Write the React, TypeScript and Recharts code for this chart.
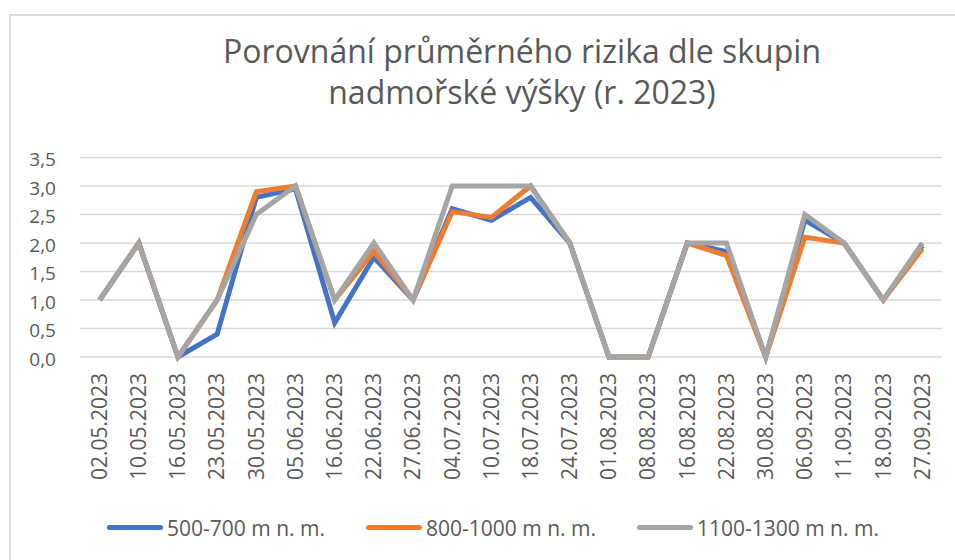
import React from "react";
import { LineChart, Line, XAxis, YAxis, CartesianGrid, Legend } from "recharts";

const dates = [
  "02.05.2023", "10.05.2023", "16.05.2023", "23.05.2023", "30.05.2023", "05.06.2023",
  "16.06.2023", "22.06.2023", "27.06.2023", "04.07.2023", "10.07.2023", "18.07.2023",
  "24.07.2023", "01.08.2023", "08.08.2023", "16.08.2023", "22.08.2023", "30.08.2023",
  "06.09.2023", "11.09.2023", "18.09.2023", "27.09.2023",
];
const low = [1, 2, 0, 0.4, 2.8, 2.95, 0.6, 1.75, 1, 2.6, 2.4, 2.8, 2, 0, 0, 2, 1.85, 0, 2.4, 2, 1, 1.95];
const mid = [1, 2, 0, 1, 2.9, 3, 1, 1.85, 1, 2.55, 2.45, 3, 2, 0, 0, 2, 1.78, 0, 2.1, 2, 1, 1.9];
const high = [1, 2, 0, 1, 2.5, 3, 1, 2, 1, 3, 3, 3, 2, 0, 0, 2, 2, 0, 2.5, 2, 1, 2];
const yTicks = [0, 0.5, 1, 1.5, 2, 2.5, 3, 3.5];

const seriesNames = ["500-700 m n. m.", "800-1000 m n. m.", "1100-1300 m n. m."];
const seriesColors = ["#4472C4", "#ED7D31", "#A5A5A5"];

const data = dates.map((d, i) => ({ date: d, low: low[i], mid: mid[i], high: high[i] }));

const FONT = "'Open Sans', sans-serif";
const TEXT = "#595959";

const XTick = (props: any) => {
  const { x, y, payload } = props;
  const ty = y + 16;
  return (
    <text
      x={x}
      y={ty}
      transform={`rotate(-90, ${x}, ${ty})`}
      textAnchor="end"
      dy="0.35em"
      fill={TEXT}
      fontSize={21}
      fontFamily={FONT}
    >
      {payload.value}
    </text>
  );
};

const YTick = (props: any) => {
  const { y, payload } = props;
  return (
    <text x={56} y={y + 2} textAnchor="end" dy="0.35em" fill={TEXT} fontSize={19} fontFamily={FONT}>
      {payload.value.toFixed(1).replace(".", ",")}
    </text>
  );
};

const LegendContent = () => (
  <div
    style={{
      display: "flex",
      alignItems: "center",
      height: 45,
      paddingLeft: 107,
      gap: 41,
      fontFamily: FONT,
      fontSize: 21,
      color: TEXT,
    }}
  >
    {seriesNames.map((n, i) => (
      <div key={n} style={{ display: "flex", alignItems: "center" }}>
        <div
          style={{
            width: 56,
            height: 5,
            borderRadius: 3,
            background: seriesColors[i],
            marginRight: 4,
          }}
        />
        <span style={{ whiteSpace: "nowrap" }}>{n}</span>
      </div>
    ))}
  </div>
);

export default function App() {
  return (
    <div
      style={{
        position: "fixed",
        left: 0,
        top: 0,
        width: 955,
        height: 560,
        overflow: "hidden",
        background: "#fff",
      }}
    >
      <div
        style={{
          position: "absolute",
          left: 9,
          top: 14,
          width: 1100,
          height: 700,
          border: "2px solid #d9d9d9",
          boxSizing: "border-box",
        }}
      />
      <div
        style={{
          position: "absolute",
          left: 0,
          top: 30,
          width: 1044,
          textAlign: "center",
          fontFamily: FONT,
          fontSize: 32,
          lineHeight: "41px",
          color: TEXT,
        }}
      >
        Porovnání průměrného rizika dle skupin
        <br />
        nadmořské výšky (r. 2023)
      </div>
      <div style={{ position: "absolute", left: 0, top: 0 }}>
        <LineChart width={955} height={560} data={data} margin={{ top: 157.5, right: 13, left: 0, bottom: 0 }}>
          <CartesianGrid vertical={false} stroke="#d9d9d9" strokeWidth={1.5} />
          <XAxis
            dataKey="date"
            height={203}
            axisLine={false}
            tickLine={false}
            tickSize={0}
            tickMargin={0}
            interval={0}
            padding={{ left: 19.6, right: 19.6 }}
            tick={<XTick />}
          />
          <YAxis
            width={80}
            domain={[0, 3.5]}
            ticks={yTicks}
            axisLine={false}
            tickLine={false}
            tick={<YTick />}
          />
          <Line
            type="linear"
            dataKey="low"
            name={seriesNames[0]}
            stroke={seriesColors[0]}
            strokeWidth={5}
            dot={false}
            activeDot={false}
            isAnimationActive={false}
          />
          <Line
            type="linear"
            dataKey="mid"
            name={seriesNames[1]}
            stroke={seriesColors[1]}
            strokeWidth={5}
            dot={false}
            activeDot={false}
            isAnimationActive={false}
          />
          <Line
            type="linear"
            dataKey="high"
            name={seriesNames[2]}
            stroke={seriesColors[2]}
            strokeWidth={5}
            dot={false}
            activeDot={false}
            isAnimationActive={false}
          />
          <Legend
            layout="horizontal"
            verticalAlign="middle"
            align="center"
            wrapperStyle={{ top: 505, left: 0, width: 955, height: 45 }}
            content={<LegendContent />}
          />
        </LineChart>
      </div>
    </div>
  );
}
